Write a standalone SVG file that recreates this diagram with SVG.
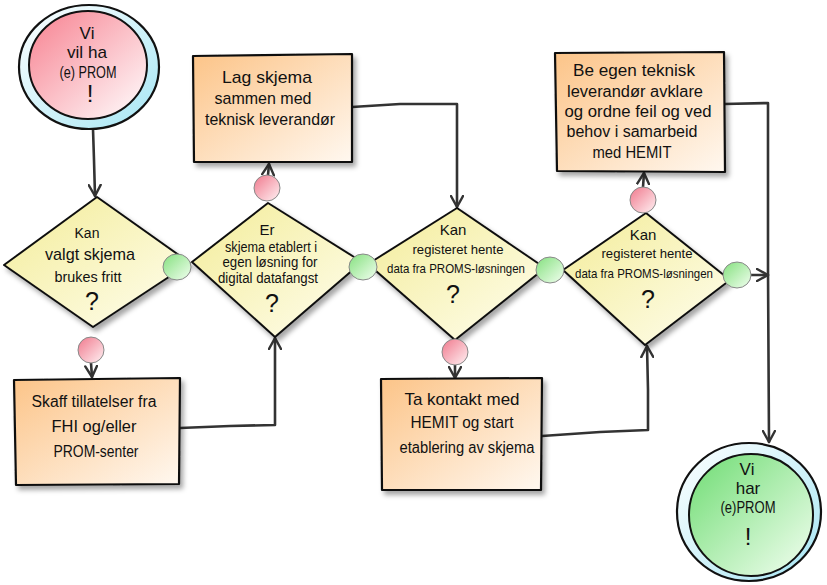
<svg xmlns="http://www.w3.org/2000/svg" width="827" height="585" viewBox="0 0 827 585">
<defs>
  <linearGradient id="gPink" x1="0" y1="0" x2="1" y2="1">
    <stop offset="0" stop-color="#f7808f"/>
    <stop offset="1" stop-color="#ffffff"/>
  </linearGradient>
  <linearGradient id="gGreen" x1="0" y1="0" x2="1" y2="1">
    <stop offset="0" stop-color="#6edc72"/>
    <stop offset="1" stop-color="#f4fff2"/>
  </linearGradient>
  <linearGradient id="gRing" x1="0" y1="0" x2="1" y2="1">
    <stop offset="0" stop-color="#ffffff"/>
    <stop offset="1" stop-color="#a6e6f4"/>
  </linearGradient>
  <linearGradient id="gBox" x1="0" y1="0" x2="1" y2="1">
    <stop offset="0" stop-color="#fcc488"/>
    <stop offset="1" stop-color="#fff8f0"/>
  </linearGradient>
  <linearGradient id="gDia" x1="0" y1="0" x2="1" y2="1">
    <stop offset="0" stop-color="#f3ec98"/>
    <stop offset="1" stop-color="#fffef0"/>
  </linearGradient>
  <linearGradient id="gSmallG" x1="0" y1="0" x2="1" y2="1">
    <stop offset="0" stop-color="#84e07e"/>
    <stop offset="1" stop-color="#f2fff0"/>
  </linearGradient>
  <linearGradient id="gSmallR" x1="0" y1="0" x2="1" y2="1">
    <stop offset="0" stop-color="#f0788c"/>
    <stop offset="1" stop-color="#fff2f4"/>
  </linearGradient>
  <filter id="shadow" x="-20%" y="-20%" width="140%" height="140%">
    <feDropShadow dx="3" dy="4" stdDeviation="2.5" flood-color="#000" flood-opacity="0.35"/>
  </filter>
  <marker id="arr" viewBox="0 0 14 14" refX="12" refY="7" markerWidth="14" markerHeight="14" markerUnits="userSpaceOnUse" orient="auto">
    <path d="M1,1 L12,7 L1,13" fill="none" stroke="#333" stroke-width="2.4" stroke-linecap="round" stroke-linejoin="round"/>
  </marker>
  <style>
    .t { font-family: "Liberation Sans", "DejaVu Sans", sans-serif; fill: #111; text-anchor: middle; }
    .box { fill: url(#gBox); stroke: #111; stroke-width: 2.2; stroke-linejoin: round; filter: url(#shadow); }
    .dia { fill: url(#gDia); stroke: #111; stroke-width: 2; stroke-linejoin: round; filter: url(#shadow); }
    .conn { fill: none; stroke: #333; stroke-width: 2.6; stroke-linecap: round; stroke-linejoin: round; marker-end: url(#arr); }
    .sg { fill: url(#gSmallG); stroke: #888; stroke-width: 1; }
    .sr { fill: url(#gSmallR); stroke: #888; stroke-width: 1; }
    .ring { fill: url(#gRing); stroke: #111; stroke-width: 2.2; }
    .core { stroke: #111; stroke-width: 2; }
  </style>
</defs>
<rect width="827" height="585" fill="#ffffff"/>

<g id="connectors">
  <path class="conn" d="M93,129 L94,160 L95,196"/>
  <path class="conn" d="M91,363 L92,377"/>
  <path class="conn" d="M180,428 L230,426 L275,425 L275,380 L275,338"/>
  <path class="conn" d="M268,175 L269,164"/>
  <path class="conn" d="M352,107 L400,104 L457,104 L457,160 L457,207"/>
  <path class="conn" d="M455,365 L455,378"/>
  <path class="conn" d="M542,436 L600,432 L648,430 L648,390 L647,346"/>
  <path class="conn" d="M643,187 L644,173"/>
  <path class="conn" d="M724,104 L768,103 L768,270 L769,442"/>
  <path class="conn" d="M751,275 L768,275"/>
</g>

<g id="start">
  <ellipse class="ring" cx="89" cy="67" rx="70" ry="62"/>
  <ellipse class="core" fill="url(#gPink)" cx="88" cy="65" rx="59" ry="54"/>
  <text class="t" x="87" y="39" font-size="17">Vi</text>
  <text class="t" x="87" y="58" font-size="17" textLength="40" lengthAdjust="spacingAndGlyphs">vil ha</text>
  <text class="t" x="88" y="78" font-size="17" textLength="57" lengthAdjust="spacingAndGlyphs">(e) PROM</text>
  <text class="t" x="90" y="102" font-size="24">!</text>
</g>

<g id="q1">
  <polygon class="dia" points="97,197 190,263 93,327 4,265"/>
  <text class="t" x="87" y="238" font-size="14">Kan</text>
  <text class="t" x="90" y="260" font-size="17" textLength="90" lengthAdjust="spacingAndGlyphs">valgt skjema</text>
  <text class="t" x="88" y="282" font-size="14" textLength="67" lengthAdjust="spacingAndGlyphs">brukes fritt</text>
  <text class="t" x="92" y="310" font-size="25">?</text>
</g>

<g id="q2">
  <polygon class="dia" points="268,203 362,262 275,337 192,262"/>
  <text class="t" x="267" y="235" font-size="15">Er</text>
  <text class="t" x="271" y="252" font-size="14" textLength="92" lengthAdjust="spacingAndGlyphs">skjema etablert i</text>
  <text class="t" x="270" y="267" font-size="14" textLength="95" lengthAdjust="spacingAndGlyphs">egen løsning for</text>
  <text class="t" x="268" y="283" font-size="14" textLength="100" lengthAdjust="spacingAndGlyphs">digital datafangst</text>
  <text class="t" x="272" y="312" font-size="25">?</text>
</g>

<g id="q3">
  <polygon class="dia" points="457,208 545,268 455,340 368,264"/>
  <text class="t" x="453" y="235" font-size="15">Kan</text>
  <text class="t" x="458" y="254" font-size="13" textLength="91" lengthAdjust="spacingAndGlyphs">registeret hente</text>
  <text class="t" x="456" y="273" font-size="13" textLength="138" lengthAdjust="spacingAndGlyphs">data fra PROMS-løsningen</text>
  <text class="t" x="453" y="303" font-size="25">?</text>
</g>

<g id="q4">
  <polygon class="dia" points="646,213 730,280 645,345 563,270"/>
  <text class="t" x="643" y="240" font-size="15">Kan</text>
  <text class="t" x="647" y="258" font-size="13" textLength="91" lengthAdjust="spacingAndGlyphs">registeret hente</text>
  <text class="t" x="644" y="278" font-size="13" textLength="138" lengthAdjust="spacingAndGlyphs">data fra PROMS-løsningen</text>
  <text class="t" x="648" y="308" font-size="25">?</text>
</g>

<g id="box-lag">
  <polygon class="box" points="193,56 352,54 352,162 194,162"/>
  <text class="t" x="267" y="83" font-size="17" textLength="90" lengthAdjust="spacingAndGlyphs">Lag skjema</text>
  <text class="t" x="263" y="104" font-size="17" textLength="97" lengthAdjust="spacingAndGlyphs">sammen med</text>
  <text class="t" x="270" y="125" font-size="17" textLength="130" lengthAdjust="spacingAndGlyphs">teknisk leverandør</text>
</g>

<g id="box-be">
  <polygon class="box" points="555,53 724,52 725,172 557,171"/>
  <text class="t" x="634" y="76" font-size="16" textLength="122" lengthAdjust="spacingAndGlyphs">Be egen teknisk</text>
  <text class="t" x="635" y="97" font-size="16" textLength="136" lengthAdjust="spacingAndGlyphs">leverandør avklare</text>
  <text class="t" x="638" y="117" font-size="16" textLength="147" lengthAdjust="spacingAndGlyphs">og ordne feil og ved</text>
  <text class="t" x="632" y="137" font-size="16" textLength="131" lengthAdjust="spacingAndGlyphs">behov i samarbeid</text>
  <text class="t" x="632" y="158" font-size="16" textLength="79" lengthAdjust="spacingAndGlyphs">med HEMIT</text>
</g>

<g id="box-skaff">
  <polygon class="box" points="14,380 180,378 179,484 16,485"/>
  <text class="t" x="94" y="407" font-size="16" textLength="125" lengthAdjust="spacingAndGlyphs">Skaff tillatelser fra</text>
  <text class="t" x="94" y="432" font-size="17" textLength="85" lengthAdjust="spacingAndGlyphs">FHI og/eller</text>
  <text class="t" x="96" y="457" font-size="17" textLength="85" lengthAdjust="spacingAndGlyphs">PROM-senter</text>
</g>

<g id="box-ta">
  <polygon class="box" points="381,379 542,378 541,490 382,490"/>
  <text class="t" x="462" y="405" font-size="17" textLength="115" lengthAdjust="spacingAndGlyphs">Ta kontakt med</text>
  <text class="t" x="462" y="428" font-size="17" textLength="103" lengthAdjust="spacingAndGlyphs">HEMIT og start</text>
  <text class="t" x="467" y="453" font-size="16" textLength="135" lengthAdjust="spacingAndGlyphs">etablering av skjema</text>
</g>

<g id="end">
  <ellipse class="ring" cx="749" cy="512" rx="72" ry="69"/>
  <ellipse class="core" fill="url(#gGreen)" cx="751" cy="515" rx="62" ry="61"/>
  <text class="t" x="747" y="475" font-size="17">Vi</text>
  <text class="t" x="748" y="494" font-size="17">har</text>
  <text class="t" x="748" y="513" font-size="16" textLength="55" lengthAdjust="spacingAndGlyphs">(e)PROM</text>
  <text class="t" x="748" y="545" font-size="24">!</text>
</g>

<g id="dots">
  <ellipse id="yes1" class="sg" cx="177" cy="267" rx="14" ry="13"/>
  <ellipse id="no1" class="sr" cx="91" cy="350" rx="13" ry="13"/>
  <ellipse id="yes2" class="sg" cx="363" cy="267" rx="14" ry="13"/>
  <ellipse id="no2" class="sr" cx="267" cy="188" rx="13" ry="13"/>
  <ellipse id="yes3" class="sg" cx="550" cy="270" rx="14" ry="13"/>
  <ellipse id="no3" class="sr" cx="455" cy="352" rx="13" ry="13"/>
  <ellipse id="no4" class="sr" cx="643" cy="200" rx="13" ry="13"/>
  <ellipse id="yes4" class="sg" cx="737" cy="275" rx="14" ry="13"/>
</g>
</svg>
